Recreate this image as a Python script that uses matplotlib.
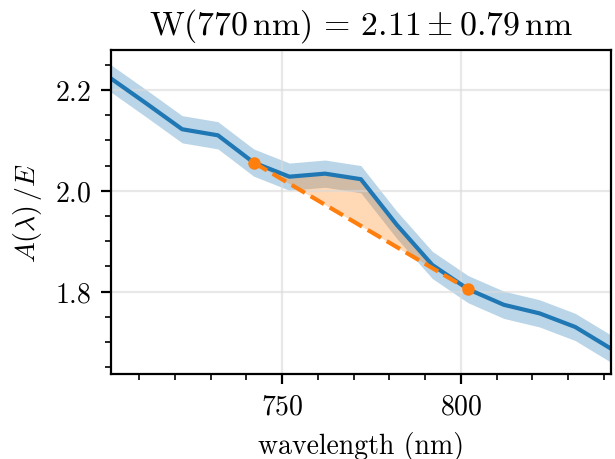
import numpy as np
import matplotlib
matplotlib.use("Agg")
import matplotlib.pyplot as plt
from matplotlib.ticker import MultipleLocator

plt.rcParams.update({
    "font.family": "serif",
    "font.serif": ["cmr10"],
    "mathtext.fontset": "cm",
    "axes.formatter.use_mathtext": True,
    "font.size": 10,
})

# spectrum
wavelength = [702, 712, 722, 732, 742, 752, 762, 772, 782, 792, 802, 812, 822, 832, 842]
extinction = [2.223, 2.173, 2.122, 2.110, 2.056, 2.028, 2.034, 2.023, 1.933, 1.853,
              1.805, 1.774, 1.757, 1.730, 1.687]
extinction_err = [0.027] * len(wavelength)

# continuum anchor points
cont_wave = [742, 802]
cont_value = [2.056, 1.805]

title = r"$\mathrm{W}(770\,\mathrm{nm})\,=\,2.11 \pm 0.79\,\mathrm{nm}$"


def main():
    x = np.array(wavelength)
    y = np.array(extinction)
    err = np.array(extinction_err)

    fig, ax = plt.subplots(figsize=(3.075, 2.3), dpi=200)
    fig.subplots_adjust(left=0.18, right=0.9935, top=0.889, bottom=0.185)

    ax.fill_between(x, y - err, y + err, color="C0", alpha=0.3, lw=0)
    ax.plot(x, y, color="C0", lw=1.5)

    mask = (x >= cont_wave[0]) & (x <= cont_wave[1])
    cont = np.interp(x[mask], cont_wave, cont_value)
    ax.fill_between(x[mask], y[mask], cont, color="C1", alpha=0.3, lw=0)
    ax.plot(cont_wave, cont_value, "--o", color="C1", lw=1.5, ms=3.5)

    ax.set_xlim(702, 842)
    ax.set_ylim(1.637, 2.279)
    ax.xaxis.set_major_locator(MultipleLocator(50))
    ax.xaxis.set_minor_locator(MultipleLocator(10))
    ax.yaxis.set_major_locator(MultipleLocator(0.2))
    ax.yaxis.set_minor_locator(MultipleLocator(0.05))
    ax.grid(True, which="major", color="0.85", alpha=0.6, lw=0.8)

    ax.set_xlabel("wavelength (nm)")
    ax.set_ylabel(r"$A(\lambda)\,/E$")
    ax.set_title(title, fontsize=12.2)

    fig.savefig("out.png", dpi=200)


if __name__ == "__main__":
    main()
